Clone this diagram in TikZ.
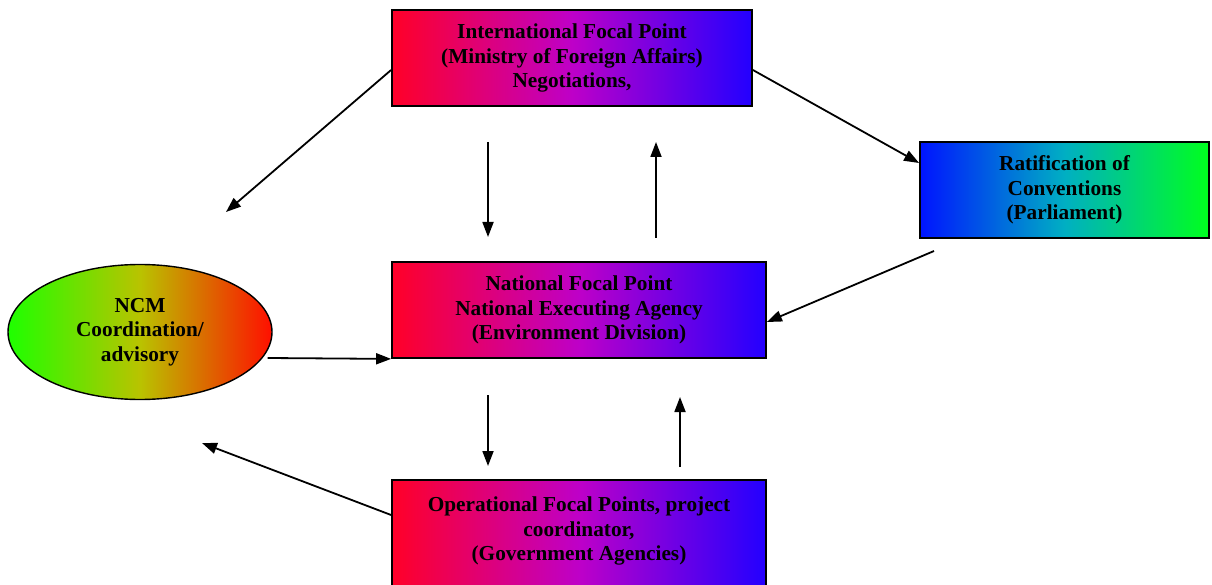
\documentclass[tikz,border=0pt]{standalone}
\usepackage{fontspec}
\setmainfont{Liberation Serif}
\usetikzlibrary{shapes.geometric,arrows.meta,calc}
\definecolor{fpred}{RGB}{255,0,40}
\definecolor{fpmid}{RGB}{190,0,200}
\definecolor{fpblue}{RGB}{35,0,255}
\definecolor{rtblue}{RGB}{0,20,255}
\definecolor{rtmid}{RGB}{0,175,195}
\definecolor{rtgreen}{RGB}{0,255,30}
\definecolor{ncgreen}{RGB}{30,255,0}
\definecolor{ncmid}{RGB}{185,195,0}
\definecolor{ncred}{RGB}{255,15,0}

\begin{document}
\begin{tikzpicture}[
      x=1pt, y=-1pt,
      >={Triangle[length=15pt,width=11pt]},
      txt/.style={font=\fontsize{21.3}{24.5}\selectfont\bfseries,align=center},
      fp/.style={txt,draw,line width=1.8pt,shading=axis,left color=fpred,right color=fpblue,middle color=fpmid,inner sep=0pt},
      rt/.style={fp,left color=rtblue,right color=rtgreen,middle color=rtmid},
      nc/.style={txt,ellipse,draw,line width=1.4pt,shading=axis,left color=ncgreen,right color=ncred,middle color=ncmid,inner sep=0pt},
      link/.style={->,line width=1.8pt},
    ]
    \useasboundingbox (0,0) rectangle (1212,585);
    \clip (0,0) rectangle (1212,585);
    % boxes
    \node[fp,minimum width=360pt,minimum height=96pt] (intl) at (572,58)
      {International Focal Point\\(Ministry of Foreign Affairs)\\Negotiations,};
    \node[rt,minimum width=289pt,minimum height=96pt] (ratif) at (1064.5,190)
      {Ratification of\\Conventions\\(Parliament)};
    \node[fp,minimum width=374pt,minimum height=96pt] (natl) at (579,310)
      {National Focal Point\\National Executing Agency\\(Environment Division)};
    \node[fp,minimum width=374pt,minimum height=122pt] (oper) at (579,541)
      {Operational Focal Points, project\\coordinator,\\(Government Agencies)\\\mbox{}};
    \node[nc,minimum width=264pt,minimum height=135pt] (ncm) at (140,332)
      {NCM\\Coordination/\\advisory};
    % free ends
    \coordinate (ncmtop) at (226,212);
    \coordinate (ncmlow) at (202,443);
    \coordinate (dnA) at (488,142);
    \coordinate (dnB) at (488,237);
    \coordinate (upA) at (656,238);
    \coordinate (upB) at (656,142);
    \coordinate (rtlow) at (934,251);
    \coordinate (dnC) at (488,395);
    \coordinate (dnD) at (488,466);
    \coordinate (upC) at (680,467);
    \coordinate (upD) at (680,397);
    % connectors
    \draw[link] ([yshift=-12pt]intl.west) -- (ncmtop);
    \draw[link] (dnA) -- (dnB);
    \draw[link] (upA) -- (upB);
    \draw[link] ([yshift=-12pt]intl.east) -- ([yshift=27pt]ratif.west);
    \draw[link] (rtlow) -- ([yshift=-12pt]natl.east);
    \draw[link] ([xshift=-5pt,yshift=-26pt]ncm.east) -- (natl.south west);
    \draw[link] (dnC) -- (dnD);
    \draw[link] (upC) -- (upD);
    \draw[link] ([yshift=26pt]oper.west) -- (ncmlow);
  \end{tikzpicture}
\end{document}
